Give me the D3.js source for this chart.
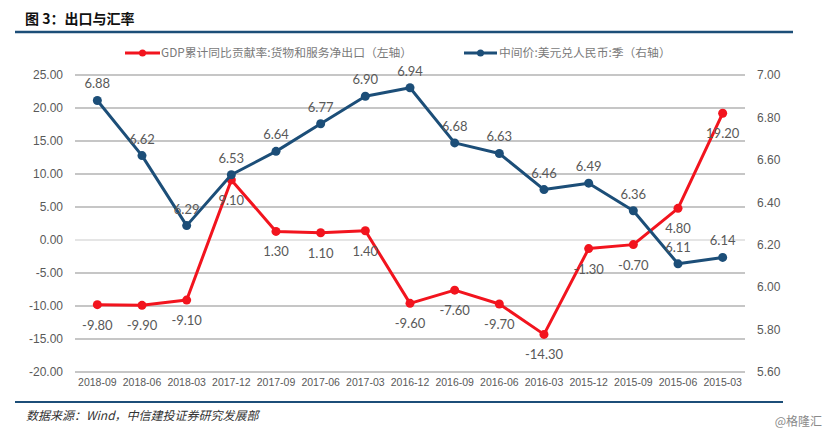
<!DOCTYPE html>
<html><head><meta charset="utf-8">
<script src="https://cdn.jsdelivr.net/npm/d3@7"></script>
<style>body{margin:0;background:#fff}svg{display:block}</style>
</head><body>
<svg id="c" width="830" height="434"></svg>
<script>
const categories = ["2018-09","2018-06","2018-03","2017-12","2017-09","2017-06","2017-03","2016-12","2016-09","2016-06","2016-03","2015-12","2015-09","2015-06","2015-03"];
const gdpContribution = [-9.8,-9.9,-9.1,9.1,1.3,1.1,1.4,-9.6,-7.6,-9.7,-14.3,-1.3,-0.7,4.8,19.2];
const usdCny = [6.88,6.62,6.29,6.53,6.64,6.77,6.90,6.94,6.68,6.63,6.46,6.49,6.36,6.11,6.14];
const leftTicks = [25,20,15,10,5,0,-5,-10,-15,-20];
const rightTicks = [7.0,6.8,6.6,6.4,6.2,6.0,5.8,5.6];
const title = "图 3：出口与汇率";
const legendRed = "GDP累计同比贡献率:货物和服务净出口（左轴）";
const legendBlue = "中间价:美元兑人民币:季（右轴）";
const source = "数据来源：Wind，中信建投证券研究发展部";
const watermark = "@格隆汇";

const RED = "#f2141e", BLUE = "#1c4e78", GRID = "#b3b3b3", TXT = "#595959";
const fmt = d => (+d).toFixed(2);
const svg = d3.select("#c");
const x = d3.scaleBand().domain(categories).range([75, 745]);
const yL = d3.scaleLinear().domain([-20, 25]).range([372, 75]);
const yR = d3.scaleLinear().domain([5.6, 7.0]).range([372, 75]);
const cx = d => x(d) + x.bandwidth() / 2;

// title & rules
svg.append("text").attr("x", 25).attr("y", 24).text(title)
  .attr("font-family", "Noto Sans CJK SC").attr("font-weight", "bold").attr("font-size", 14).attr("fill", "#111");
svg.append("line").attr("x1", 15).attr("x2", 793).attr("y1", 32).attr("y2", 32).attr("stroke", BLUE).attr("stroke-width", 2.5);
svg.append("line").attr("x1", 15).attr("x2", 783).attr("y1", 402).attr("y2", 402).attr("stroke", BLUE).attr("stroke-width", 2);
svg.append("text").attr("x", 26).attr("y", 420).text(source)
  .attr("font-family", "Noto Sans CJK SC").attr("font-style", "italic").attr("font-size", 12).attr("fill", "#333");
svg.append("text").attr("x", 822).attr("y", 426).attr("text-anchor", "end").text(watermark)
  .attr("font-family", "Noto Sans CJK SC").attr("font-size", 12).attr("fill", "#8a8a8a");

// grid
svg.append("g").selectAll("line").data(leftTicks).join("line")
  .attr("x1", 75).attr("x2", 745).attr("y1", d => yL(d)).attr("y2", d => yL(d))
  .attr("stroke", d => d === 0 ? "#dcdcdc" : GRID).attr("stroke-width", 1.3);

// axes
const axL = svg.append("g").attr("transform", "translate(70,0)")
  .call(d3.axisLeft(yL).tickValues(leftTicks).tickFormat(fmt).tickSize(0).tickPadding(7));
const axR = svg.append("g").attr("transform", "translate(750,0)")
  .call(d3.axisRight(yR).tickValues(rightTicks).tickFormat(fmt).tickSize(0).tickPadding(7));
const axB = svg.append("g").attr("transform", "translate(0,376)")
  .call(d3.axisBottom(x).tickSize(0).tickPadding(3));
[axL, axR, axB].forEach(a => { a.select(".domain").remove(); a.selectAll("text").attr("fill", TXT).attr("font-family", "Liberation Sans"); });
axL.selectAll("text").attr("font-size", 12);
axR.selectAll("text").attr("font-size", 12);
axB.selectAll("text").attr("font-size", 10.5);

// series
function series(vals, y, color) {
  const line = d3.line().x((d, i) => cx(categories[i])).y(d => y(d));
  svg.append("path").datum(vals).attr("d", line).attr("fill", "none").attr("stroke", color).attr("stroke-width", 3).attr("stroke-linejoin", "round");
  svg.append("g").selectAll("circle").data(vals).join("circle")
    .attr("cx", (d, i) => cx(categories[i])).attr("cy", d => y(d)).attr("r", 4.5).attr("fill", color);
}
series(gdpContribution, yL, RED);
series(usdCny, yR, BLUE);

// labels
const lbl = { "font-family": "Lato", "font-size": 13, "fill": TXT, "text-anchor": "middle" };
function labels(vals, y, dy) {
  const g = svg.append("g").selectAll("text").data(vals).join("text")
    .attr("x", (d, i) => cx(categories[i])).attr("y", d => y(d) + dy).text(fmt);
  Object.entries(lbl).forEach(([k, v]) => g.attr(k, v));
}
labels(gdpContribution, yL, 25);
labels(usdCny, yR, -12);

// legend
function legend(x0, x1, tx, color, text) {
  svg.append("line").attr("x1", x0).attr("x2", x1).attr("y1", 53).attr("y2", 53).attr("stroke", color).attr("stroke-width", 3);
  svg.append("circle").attr("cx", (x0 + x1) / 2).attr("cy", 53).attr("r", 3.5).attr("fill", color);
  svg.append("text").attr("x", tx).attr("y", 57).text(text)
    .attr("font-family", "Noto Sans CJK SC").attr("font-size", 11.8).attr("fill", "#7a7a7a");
}
legend(125, 160, 161, RED, legendRed);
legend(464, 497, 499, BLUE, legendBlue);
</script>
</body></html>
